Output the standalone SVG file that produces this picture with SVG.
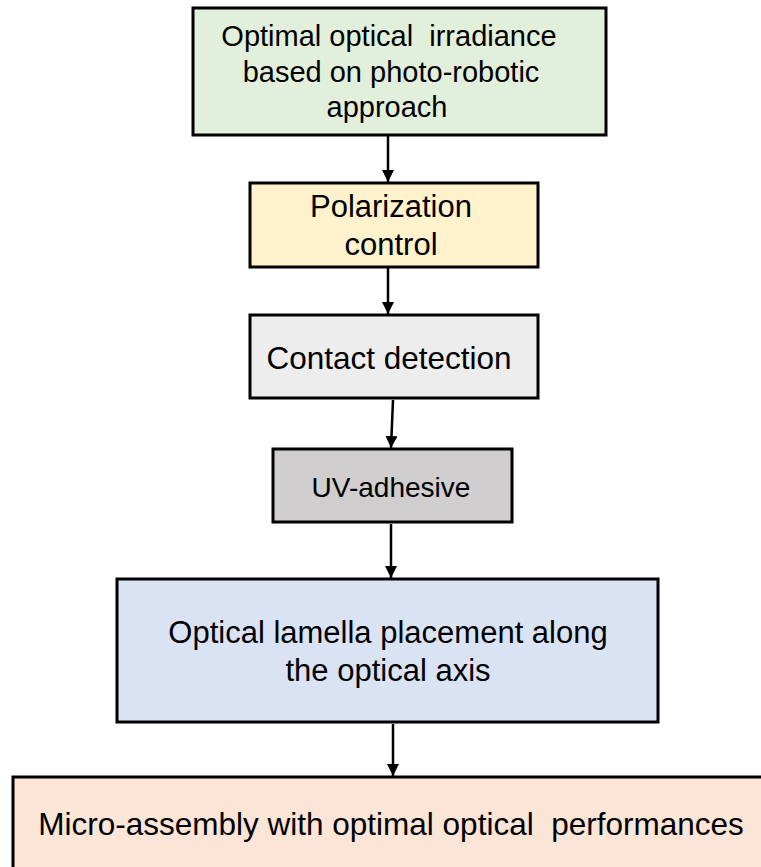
<svg xmlns="http://www.w3.org/2000/svg" width="761" height="867" viewBox="0 0 761 867">
<style>
.box{stroke:#000;stroke-width:3}
.t{font-family:"Liberation Sans",Arial,sans-serif;fill:#000;text-anchor:middle;white-space:pre}
.c{stroke:#000;stroke-width:2.5;fill:none}
</style>
<defs>
<marker id="ah" markerUnits="userSpaceOnUse" markerWidth="12" markerHeight="12" viewBox="0 0 12 12" refX="12" refY="6" orient="auto">
<path d="M0,0 L12,6 L0,12 Z" fill="#000"/>
</marker>
</defs>
<rect width="761" height="867" fill="#fff"/>
<g id="connectors">
<line class="c" x1="388" y1="136" x2="388" y2="182" marker-end="url(#ah)"/>
<line class="c" x1="388" y1="268" x2="388" y2="314" marker-end="url(#ah)"/>
<line class="c" x1="393" y1="400" x2="391" y2="448" marker-end="url(#ah)"/>
<line class="c" x1="391" y1="524" x2="391" y2="578" marker-end="url(#ah)"/>
<line class="c" x1="393" y1="724" x2="393" y2="776" marker-end="url(#ah)"/>
</g>
<g id="n1">
<rect class="box" x="193" y="8" width="413" height="127" fill="#e2efda"/>
<text class="t" font-size="29" x="389" y="46" xml:space="preserve">Optimal optical  irradiance</text>
<text class="t" font-size="29" x="391" y="82">based on photo-robotic</text>
<text class="t" font-size="29" x="387" y="117">approach</text>
</g>
<g id="n2">
<rect class="box" x="250" y="183" width="288" height="84" fill="#fff2cc"/>
<text class="t" font-size="31" x="391" y="217">Polarization</text>
<text class="t" font-size="31" x="391" y="255">control</text>
</g>
<g id="n3">
<rect class="box" x="250" y="315" width="288" height="83" fill="#ededed"/>
<text class="t" font-size="31.5" x="389" y="369">Contact detection</text>
</g>
<g id="n4">
<rect class="box" x="273" y="449" width="239" height="73" fill="#d0cece"/>
<text class="t" font-size="28" x="391" y="497">UV-adhesive</text>
</g>
<g id="n5">
<rect class="box" x="117" y="579" width="541" height="143" fill="#dae3f3"/>
<text class="t" font-size="31" x="388" y="643">Optical lamella placement along</text>
<text class="t" font-size="31" x="388" y="681">the optical axis</text>
</g>
<g id="n6">
<rect class="box" x="13" y="777" width="770" height="110" fill="#fbe5d6"/>
<text class="t" font-size="31.5" x="391" y="835" xml:space="preserve">Micro-assembly with optimal optical  performances</text>
</g>
</svg>
